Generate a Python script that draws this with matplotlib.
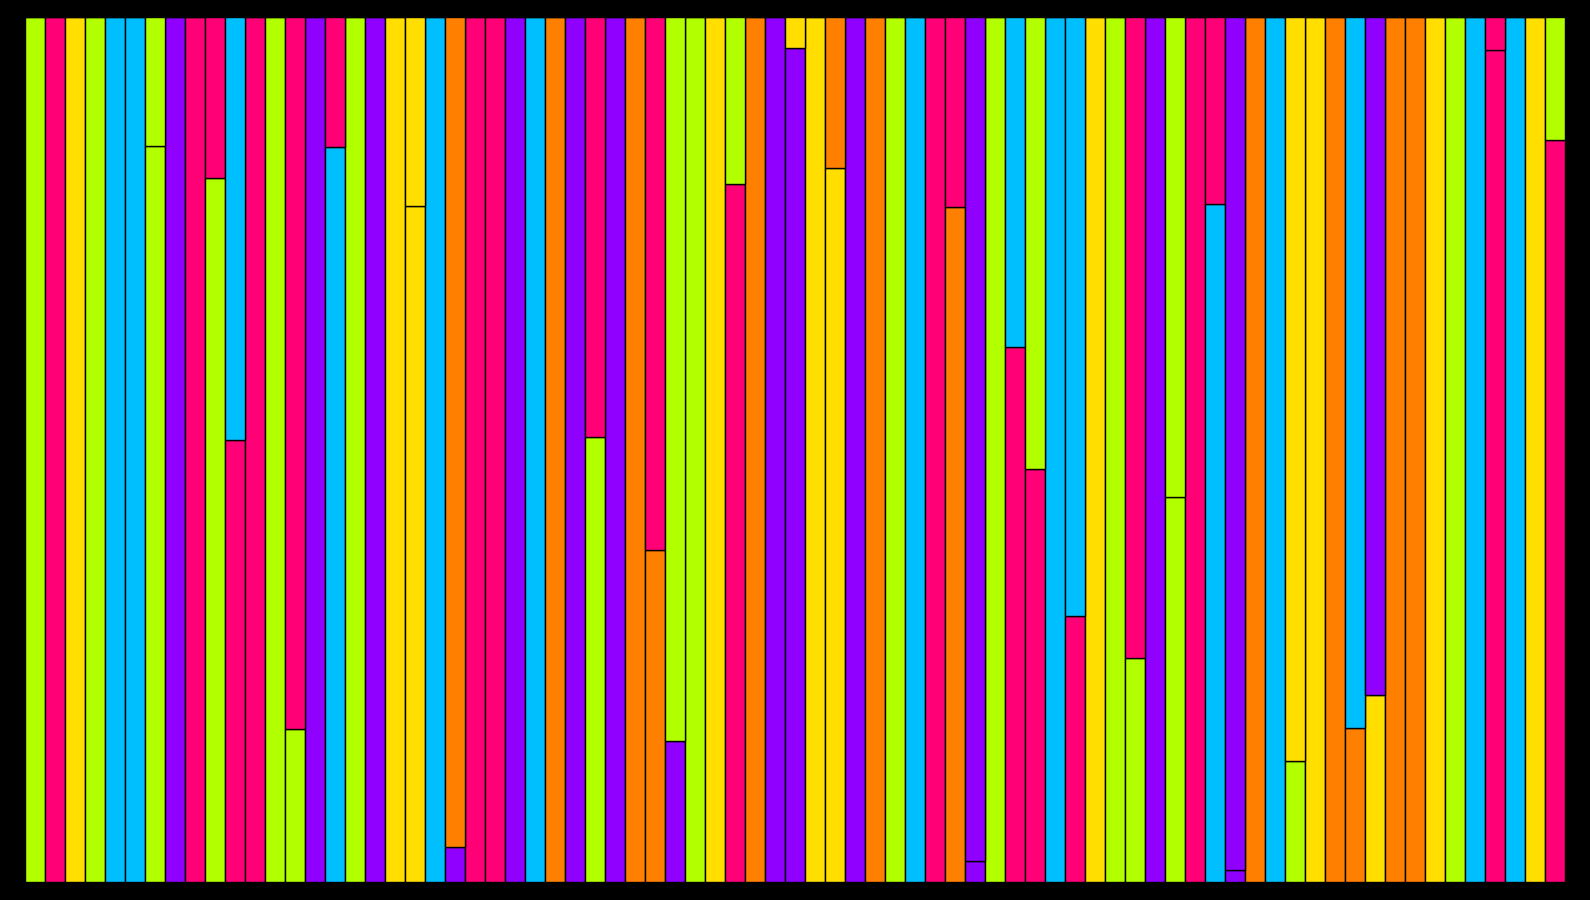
import numpy as np
import matplotlib
matplotlib.use('Agg')
import matplotlib.pyplot as plt

# palette
palette = {
    'L': '#B2FF00',  # lime
    'P': '#FF0077',  # pink
    'Y': '#FFDE00',  # yellow
    'C': '#00BFFF',  # cyan
    'V': '#8F00FF',  # purple
    'O': '#FF8000',  # orange
}

# share of the lower segment in each bar (1.0 = bar of one colour)
bottom_share = [
    1.0, 1.0, 1.0, 1.0, 1.0, 1.0, 0.851, 1.0, 1.0, 0.814,
    0.511, 1.0, 1.0, 0.177, 1.0, 0.850, 1.0, 1.0, 1.0, 0.782,
    1.0, 0.041, 1.0, 1.0, 1.0, 1.0, 1.0, 1.0, 0.515, 1.0,
    1.0, 0.384, 0.163, 1.0, 1.0, 0.807, 1.0, 1.0, 0.964, 1.0,
    0.826, 1.0, 1.0, 1.0, 1.0, 1.0, 0.780, 0.024, 1.0, 0.619,
    0.477, 1.0, 0.308, 1.0, 1.0, 0.259, 1.0, 0.445, 1.0, 0.784,
    0.014, 1.0, 1.0, 0.140, 1.0, 1.0, 0.178, 0.216, 1.0, 1.0,
    1.0, 1.0, 1.0, 0.962, 1.0, 1.0, 0.858,
]
bottom_colors = list(
    'LPYLCCLVPL' 'PPLLVCLVYY' 'CVPPVCOVLV' 'OOVLYPOVVY'
    'YVOLCPOVLP' 'PCPYLLVLPC' 'VOCLYOOYOO' 'YLCPCYP'
)
top_colors = list(
    'LPYLCCLVPP' 'CPLPVPLVYY' 'COPPVCOVPV' 'OPLLYLOVYY'
    'OVOLCPPVLC' 'LCCYLPVLPP' 'VOCYYOCVOO' 'YLCPCYL'
)

bottom_share = np.array(bottom_share)
top_share = 1.0 - bottom_share
x = np.arange(len(bottom_share))

fig = plt.figure(figsize=(15.9, 9), dpi=100, facecolor='black')
ax = fig.add_axes([25 / 1590, 18 / 900, 1540 / 1590, 865 / 900])
ax.set_facecolor('black')

ax.bar(x, bottom_share, width=1.0, color=[palette[c] for c in bottom_colors],
       edgecolor='black', linewidth=1.0)
ax.bar(x, top_share, bottom=bottom_share, width=1.0,
       color=[palette[c] for c in top_colors], edgecolor='black', linewidth=1.0)

ax.set_xlim(-0.5, len(x) - 0.5)
ax.set_ylim(0, 1)
ax.axis('off')

fig.savefig('out.png', dpi=100, facecolor='black')
